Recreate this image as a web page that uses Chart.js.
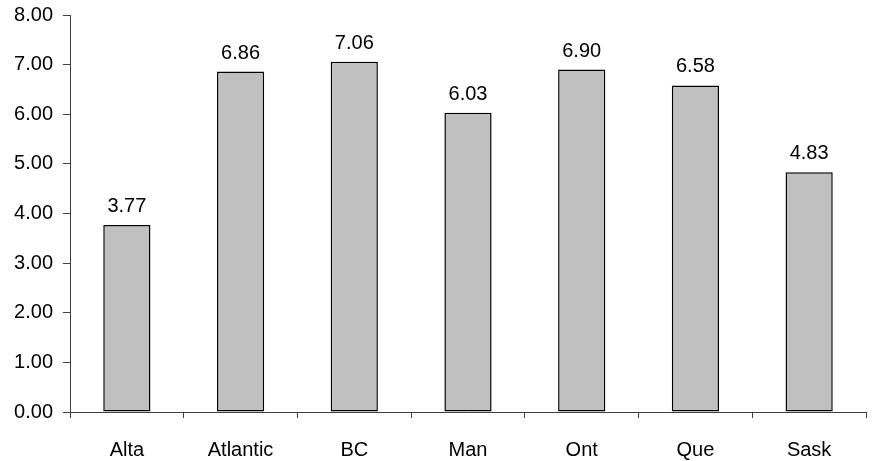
<!DOCTYPE html>
<html>
<head>
<meta charset="utf-8">
<script src="https://cdn.jsdelivr.net/npm/chart.js@4/dist/chart.umd.min.js"></script>
<style>
  html, body { margin: 0; padding: 0; background: #ffffff; }
  #wrap { width: 873px; height: 461px; position: relative; }
</style>
</head>
<body>
<div id="wrap"><canvas id="chart" width="873" height="461"></canvas></div>
<script>
// Provinces / regions and their values
const categories = ['Alta', 'Atlantic', 'BC', 'Man', 'Ont', 'Que', 'Sask'];
const values = [3.77, 6.86, 7.06, 6.03, 6.90, 6.58, 4.83];
const yTicks = [0, 1, 2, 3, 4, 5, 6, 7, 8];

const FONT = '"Liberation Sans", Arial, sans-serif';
const FONT_SIZE = 20;

// Writes each bar's value above it
const valueLabels = {
  id: 'valueLabels',
  afterDatasetsDraw(chart) {
    const ctx = chart.ctx;
    const meta = chart.getDatasetMeta(0);
    ctx.save();
    ctx.font = FONT_SIZE + 'px ' + FONT;
    ctx.fillStyle = '#000000';
    ctx.textAlign = 'center';
    ctx.textBaseline = 'alphabetic';
    meta.data.forEach((bar, i) => {
      ctx.fillText(values[i].toFixed(2), bar.x, bar.y - 13);
    });
    ctx.restore();
  }
};

new Chart(document.getElementById('chart'), {
  type: 'bar',
  data: {
    labels: categories,
    datasets: [{
      data: values,
      backgroundColor: '#c0c0c0',
      borderColor: '#000000',
      borderWidth: 1.5,
      borderSkipped: false,
      categoryPercentage: 1.0,
      barPercentage: 0.415
    }]
  },
  options: {
    responsive: false,
    animation: false,
    devicePixelRatio: 1,
    layout: { padding: { top: 15, right: 7, bottom: 0, left: 0 } },
    plugins: {
      legend: { display: false },
      tooltip: { enabled: false }
    },
    scales: {
      x: {
        offset: true,
        grid: {
          offset: true,
          drawOnChartArea: false,
          drawTicks: true,
          tickLength: 6,
          color: '#404040'
        },
        border: { display: true, color: '#404040', width: 1 },
        ticks: {
          color: '#000000',
          padding: 20,
          font: { family: FONT, size: FONT_SIZE }
        },
        afterFit(scale) { scale.height = 49; scale.paddingLeft = 0; scale.paddingRight = 0; }
      },
      y: {
        min: 0,
        max: 8,
        afterBuildTicks(scale) { scale.ticks = yTicks.map(v => ({ value: v })); },
        grid: {
          drawOnChartArea: false,
          drawTicks: true,
          tickLength: 7,
          color: '#404040'
        },
        border: { display: true, color: '#404040', width: 1 },
        ticks: {
          color: '#000000',
          padding: 10,
          font: { family: FONT, size: FONT_SIZE },
          callback: (v) => Number(v).toFixed(2)
        },
        afterFit(scale) { scale.width = 70; scale.paddingTop = 0; scale.paddingBottom = 0; }
      }
    }
  },
  plugins: [valueLabels]
});
</script>
</body>
</html>
